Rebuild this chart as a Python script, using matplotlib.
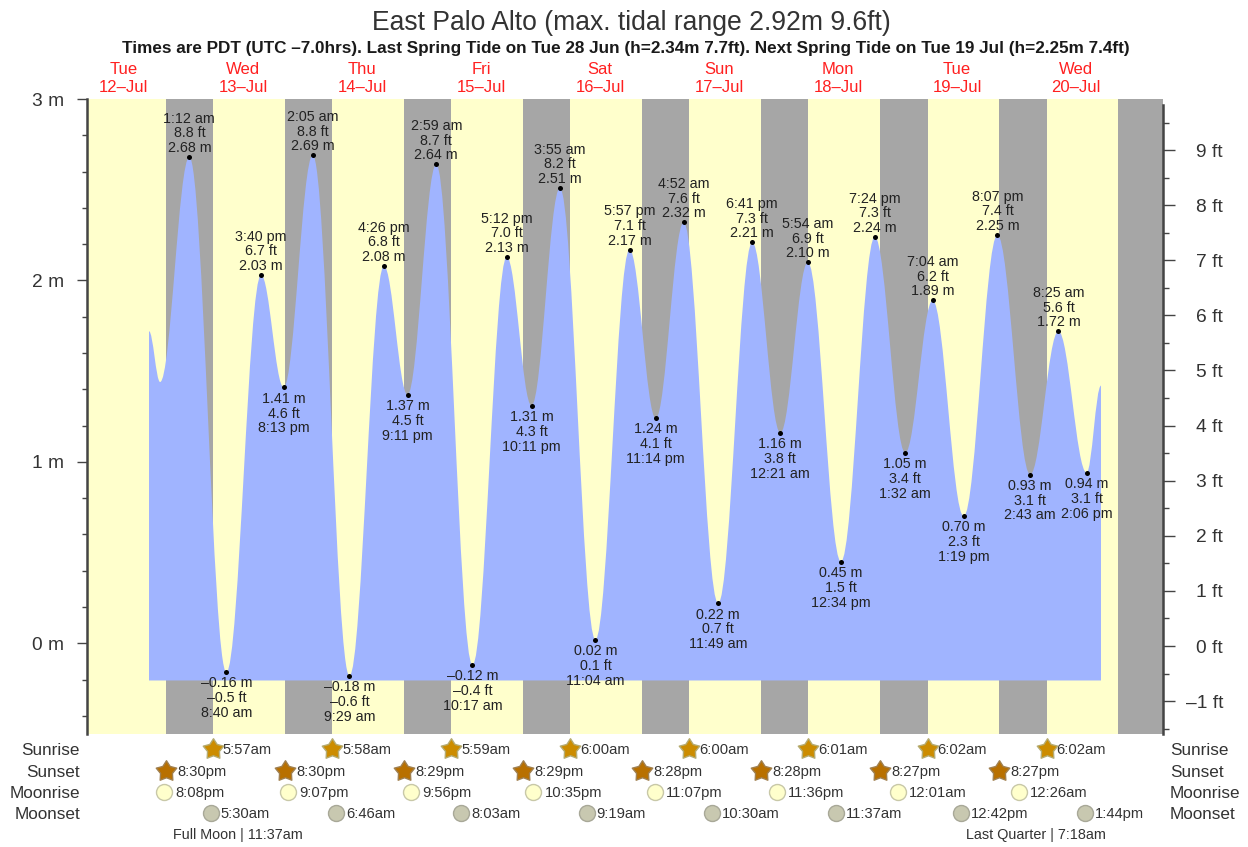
#!/usr/bin/env python3
import matplotlib
matplotlib.use('Agg')
import matplotlib.pyplot as plt
from matplotlib.path import Path
from matplotlib.patches import PathPatch
from matplotlib.transforms import blended_transform_factory
import numpy as np

plt.rcParams['font.family'] = ['Liberation Sans', 'DejaVu Sans']

# tide extremes: (day of July, clock time)
tide_days = [13, 13, 13, 13, 14, 14, 14, 14, 15, 15, 15, 15, 16, 16, 16, 16,
             17, 17, 17, 18, 18, 18, 18, 19, 19, 19, 19, 20, 20, 20]
tide_times = ['1:12 am', '8:40 am', '3:40 pm', '8:13 pm', '2:05 am', '9:29 am', '4:26 pm', '9:11 pm',
              '2:59 am', '10:17 am', '5:12 pm', '10:11 pm', '3:55 am', '11:04 am', '5:57 pm', '11:14 pm',
              '4:52 am', '11:49 am', '6:41 pm', '12:21 am', '5:54 am', '12:34 pm', '7:24 pm',
              '1:32 am', '7:04 am', '1:19 pm', '8:07 pm', '2:43 am', '8:25 am', '2:06 pm']
tide_m = [2.68, -0.16, 2.03, 1.41, 2.69, -0.18, 2.08, 1.37, 2.64, -0.12, 2.13, 1.31, 2.51, 0.02, 2.17, 1.24,
          2.32, 0.22, 2.21, 1.16, 2.10, 0.45, 2.24, 1.05, 1.89, 0.70, 2.25, 0.93, 1.72, 0.94]
tide_ft = [8.8, -0.5, 6.7, 4.6, 8.8, -0.6, 6.8, 4.5, 8.7, -0.4, 7.0, 4.3, 8.2, 0.1, 7.1, 4.1,
           7.6, 0.7, 7.3, 3.8, 6.9, 1.5, 7.3, 3.4, 6.2, 2.3, 7.4, 3.1, 5.6, 3.1]

# ends of the plotted curve, outside the labelled extremes
start_days = [12, 12]
start_times = ['5:04 pm', '7:18 pm']
start_m = [1.72, 1.44]
end_day = 20
end_time = '5:00 pm'
end_m = 1.42

day_names = ['Tue', 'Wed', 'Thu', 'Fri', 'Sat', 'Sun', 'Mon', 'Tue', 'Wed']
day_nums = [12, 13, 14, 15, 16, 17, 18, 19, 20]

sunrise_days = [13, 14, 15, 16, 17, 18, 19, 20]
sunrise = ['5:57am', '5:58am', '5:59am', '6:00am', '6:00am', '6:01am', '6:02am', '6:02am']
sunset_days = [12, 13, 14, 15, 16, 17, 18, 19]
sunset = ['8:30pm', '8:30pm', '8:29pm', '8:29pm', '8:28pm', '8:28pm', '8:27pm', '8:27pm']
moonrise_days = [12, 13, 14, 15, 16, 17, 19, 20]
moonrise = ['8:08pm', '9:07pm', '9:56pm', '10:35pm', '11:07pm', '11:36pm', '12:01am', '12:26am']
moonset_days = [13, 14, 15, 16, 17, 18, 19, 20]
moonset = ['5:30am', '6:46am', '8:03am', '9:19am', '10:30am', '11:37am', '12:42pm', '1:44pm']

YELLOW = '#ffffcc'
GRAY = '#a6a6a6'
BLUE = '#a0b4ff'
TXT = '#222222'
AXC = '#444444'


def hours(day, clock):
    ''' hours since 00:00 on 13 Jul '''
    clock = clock.replace(' ', '')
    h, m = clock[:-2].split(':')
    h = int(h) % 12
    if clock.endswith('pm'):
        h += 12
    return (day - 13) * 24 + h + int(m) / 60


tide_h = [hours(d, t) for d, t in zip(tide_days, tide_times)]
curve_x = [hours(d, t) for d, t in zip(start_days, start_times)] + tide_h + [hours(end_day, end_time)]
curve_y = start_m + tide_m + [end_m]

fig = plt.figure(figsize=(12.48, 8.47), dpi=100)
ax = fig.add_axes([87 / 1248, 1 - 734 / 847, (1163 - 87) / 1248, (734 - 99) / 847])
px_per_h = 4.96
x0 = (87 - 183.4) / px_per_h
x1 = (1163 - 183.4) / px_per_h
ax.set_xlim(x0, x1)
ax.set_ylim(-0.5, 3)
ax.set_facecolor(YELLOW)

# night bands
dusk = [hours(d, t) for d, t in zip(sunset_days, sunset)] + [hours(20, '8:27pm')]
dawn = [hours(d, t) for d, t in zip(sunrise_days, sunrise)] + [x1]
for a, b in zip(dusk, dawn):
    ax.axvspan(a, b, facecolor=GRAY, edgecolor='none', zorder=1)

# tide curve, flat at each turning point
base = -0.205
verts = [(curve_x[0], base), (curve_x[0], curve_y[0])]
codes = [Path.MOVETO, Path.LINETO]
k = 0.37
for i in range(len(curve_x) - 1):
    dx = curve_x[i + 1] - curve_x[i]
    verts += [(curve_x[i] + k * dx, curve_y[i]), (curve_x[i + 1] - k * dx, curve_y[i + 1]), (curve_x[i + 1], curve_y[i + 1])]
    codes += [Path.CURVE4] * 3
verts += [(curve_x[-1], base), (curve_x[0], base)]
codes += [Path.LINETO, Path.CLOSEPOLY]
ax.add_patch(PathPatch(Path(verts, codes), facecolor=BLUE, edgecolor='none', zorder=2))

# extreme dots and labels
ax.plot(tide_h, tide_m, 'o', color='black', ms=3.6, mew=0, zorder=4)
for i, (x, m, ft, t) in enumerate(zip(tide_h, tide_m, tide_ft, tide_times)):
    ms = f'{m:.2f} m'.replace('-', '–')
    fts = f'{ft:.1f} ft'.replace('-', '–')
    high = (i == 0 or m > tide_m[i - 1]) and (i == len(tide_m) - 1 or m > tide_m[i + 1])
    if high:
        ax.annotate(f'{t}\n{fts}\n{ms}', (x, m), xytext=(0, 1.5), textcoords='offset points', ha='center', va='bottom',
                    fontsize=10.3, color=TXT, linespacing=1.05, zorder=5)
    else:
        ax.annotate(f'{ms}\n{fts}\n{t}', (x, m), xytext=(0, -3), textcoords='offset points', ha='center', va='top',
                    fontsize=10.3, color=TXT, linespacing=1.08, zorder=5)

# axes: metres on the left, feet on the right
for s in ['top', 'bottom', 'right']:
    ax.spines[s].set_visible(False)
ax.spines['left'].set_linewidth(1.8)
ax.spines['left'].set_color(AXC)
ax.set_xticks([])
ax.set_yticks([0, 1, 2, 3])
ax.set_yticklabels(['0 m', '1 m', '2 m', '3 m'])
ax.set_yticks(np.arange(-0.4, 3, 0.2), minor=True)
ax.tick_params(axis='y', which='major', length=7.5, width=1, color=AXC, labelsize=13.8, labelcolor='#333333', pad=9)
ax.tick_params(axis='y', which='minor', length=3.5, width=1, color=AXC)

ft_top = (646 - 99) / 55.1
ft_bot = (646 - 734) / 55.1
axr = ax.twinx()
axr.set_ylim(ft_bot, ft_top)
for s in ['top', 'bottom', 'left']:
    axr.spines[s].set_visible(False)
axr.spines['right'].set_linewidth(1.8)
axr.spines['right'].set_color(AXC)
axr.spines['right'].set_bounds(ft_bot, (646 - 105) / 55.1)
ft_ticks = list(range(-1, 10))
axr.set_yticks(ft_ticks)
axr.set_yticklabels([f'{v} ft'.replace('-', '–') for v in ft_ticks], ha='right')
axr.set_yticks(np.arange(-1.5, 10, 1), minor=True)
axr.tick_params(axis='y', which='major', length=8.5, width=1, color=AXC, labelsize=13.8, labelcolor='#333333', pad=34.7)
axr.tick_params(axis='y', which='minor', length=4, width=1, color=AXC)

# titles
fig.text(631 / 1248, 1 - 23 / 847, 'East Palo Alto (max. tidal range 2.92m 9.6ft)', ha='center', va='center',
         fontsize=19.1, color='#333333')
fig.text(625.5 / 1248, 1 - 49 / 847,
         'Times are PDT (UTC –7.0hrs). Last Spring Tide on Tue 28 Jun (h=2.34m 7.7ft). Next Spring Tide on Tue 19 Jul (h=2.25m 7.4ft)',
         ha='center', va='center', fontsize=12.3, fontweight='bold', color='#1a1a1a')

# day headers at noon
top = blended_transform_factory(ax.transData, fig.transFigure)
for name, num in zip(day_names, day_nums):
    x = (num - 13) * 24 + 12
    ax.text(x, 1 - 69 / 847, name, transform=top, ha='center', va='center', fontsize=12, color='#ff2020', clip_on=False)
    ax.text(x, 1 - 87 / 847, f'{num}–Jul', transform=top, ha='center', va='center', fontsize=12, color='#ff2020', clip_on=False)

# sun and moon rows
star = Path.unit_regular_star(5, innerCircle=0.58)
rows = [
    ('Sunrise', 750, sunrise_days, sunrise, star, 15.5, '#cc8c00', '#b5ab70', 10),
    ('Sunset', 772, sunset_days, sunset, star, 15.5, '#b87000', '#a08050', 11),
    ('Moonrise', 793, moonrise_days, moonrise, 'o', 11.5, '#ffffcc', '#c8c8a8', 11),
    ('Moonset', 814, moonset_days, moonset, 'o', 11.5, '#c8c8b0', '#a8a898', 10),
]
for label, ypx, days, times, marker, ms, fc, ec, gap in rows:
    yf = 1 - ypx / 847
    fig.text(80 / 1248, yf, label, ha='right', va='center', fontsize=12.3, color='#333333')
    fig.text(1170 / 1248, yf, label, ha='left', va='center', fontsize=12.3, color='#333333')
    xs = [hours(d, t) for d, t in zip(days, times)]
    ax.plot(xs, [yf + 1.5 / 847] * len(xs), linestyle='none', marker=marker, ms=ms, mfc=fc, mec=ec, mew=1,
            transform=top, clip_on=False, zorder=6)
    for x, t in zip(xs, times):
        ax.annotate(t, xy=(x, yf), xycoords=top, xytext=(gap * 0.72, 0), textcoords='offset points',
                    ha='left', va='center', fontsize=10.6, color='#333333', annotation_clip=False)

# moon phases
phase_x = [10.9, 171.9]
phase_text = ['Full Moon | 11:37am', 'Last Quarter | 7:18am']
for x, t in zip(phase_x, phase_text):
    ax.text(x, 1 - 835 / 847, t, transform=top, ha='center', va='center', fontsize=10.4, color='#333333', clip_on=False)

fig.savefig('out.png', dpi=100, facecolor='white')
